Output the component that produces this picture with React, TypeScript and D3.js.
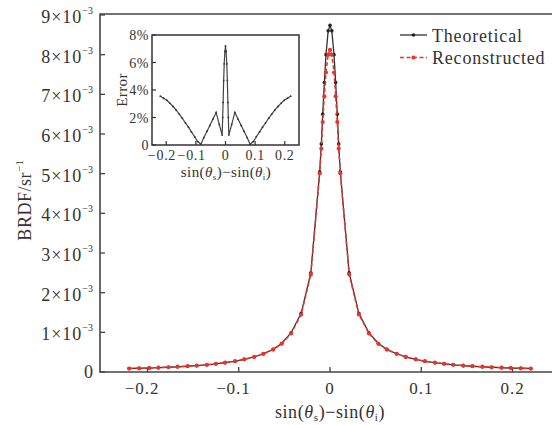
import React from "react";
import * as d3 from "d3";

// sample positions, sin(theta_s) - sin(theta_i)
const xs = [
  -0.22, -0.209, -0.198, -0.188, -0.177, -0.167, -0.156, -0.146, -0.135, -0.125,
  -0.115, -0.104, -0.094, -0.083, -0.073, -0.0623, -0.053, -0.0426, -0.0316, -0.021,
  -0.0113, -0.0095, -0.008, -0.0062, -0.0044, -0.002, 0,
  0.002, 0.0044, 0.0062, 0.008, 0.0095, 0.0113,
  0.021, 0.0316, 0.0426, 0.053, 0.0623, 0.073, 0.083, 0.094, 0.104, 0.115,
  0.125, 0.135, 0.146, 0.156, 0.167, 0.177, 0.188, 0.198, 0.209, 0.22,
];

// BRDF values in units of 1e-3 sr^-1
const theoretical = [
  0.09, 0.095, 0.1, 0.11, 0.12, 0.13, 0.145, 0.16, 0.18, 0.205,
  0.235, 0.27, 0.32, 0.38, 0.46, 0.57, 0.72, 0.99, 1.48, 2.5,
  5.05, 5.75, 6.5, 7.3, 8.0, 8.6, 8.74,
  8.6, 8.0, 7.3, 6.5, 5.75, 5.05,
  2.5, 1.48, 0.99, 0.72, 0.57, 0.46, 0.38, 0.32, 0.27, 0.235,
  0.205, 0.18, 0.16, 0.145, 0.13, 0.12, 0.11, 0.1, 0.095, 0.09,
];

const reconstructed = [
  0.087, 0.092, 0.1, 0.11, 0.12, 0.134, 0.148, 0.163, 0.183, 0.208,
  0.238, 0.272, 0.32, 0.38, 0.457, 0.565, 0.71, 0.97, 1.45, 2.46,
  5.01, 5.63, 6.3, 6.95, 7.55, 8.0, 8.12,
  8.0, 7.55, 6.95, 6.3, 5.63, 5.01,
  2.46, 1.45, 0.97, 0.71, 0.565, 0.457, 0.38, 0.32, 0.272, 0.238,
  0.208, 0.183, 0.163, 0.148, 0.134, 0.12, 0.11, 0.1, 0.092, 0.087,
];

// relative error in %
const errorPct = [
  3.55, 3.4, 3.25, 3.05, 2.8, 2.55, 2.25, 1.95, 1.6, 1.3,
  0.95, 0.6, 0.25, 0.05, 0.54, 1.0, 1.42, 1.88, 2.37, 1.5,
  0.72, 2.0, 3.1, 4.7, 5.9, 6.8, 7.2,
  6.8, 5.9, 4.7, 3.1, 2.0, 0.72,
  1.5, 2.37, 1.88, 1.42, 1.0, 0.54, 0.05, 0.25, 0.6, 0.95,
  1.3, 1.6, 1.95, 2.25, 2.55, 2.8, 3.05, 3.25, 3.4, 3.55,
];

const xTicks = [-0.2, -0.1, 0, 0.1, 0.2];
const yTicks = [0, 1, 2, 3, 4, 5, 6, 7, 8, 9];
const insetYTicks = [0, 2, 4, 6, 8];

const W = 552;
const H = 425;
const serif = "'Liberation Serif', 'Times New Roman', serif";
const axisColor = "#444";
const red = "#e8342c";

// tick label: the digits sit centred on the tick, a minus sign hangs to the left
function TickLabel({ x, y, v, size, half }: { x: number; y: number; v: number; size: number; half: number }) {
  const body = v === 0 ? "0" : Math.abs(v).toFixed(1);
  return (
    <g fontFamily={serif} fontSize={size} fill="#333">
      <text x={x} y={y} textAnchor="middle" letterSpacing={size > 15 ? 1 : 0.6}>
        {body}
      </text>
      {v < 0 && (
        <text x={x - half - 1} y={y} textAnchor="end">
          {"\u2212"}
        </text>
      )}
    </g>
  );
}

export default function App() {
  const x = d3.scaleLinear().domain([-0.252, 0.252]).range([100, 560]);
  const y = d3.scaleLinear().domain([0, 9]).range([372, 15]);

  const ix = d3.scaleLinear().domain([-0.248, 0.248]).range([152, 299]);
  const iy = d3.scaleLinear().domain([0, 8]).range([145, 35]);

  const line = d3
    .line<number>()
    .x((_, i) => x(xs[i]))
    .y((d) => y(d));
  const insetLine = d3
    .line<number>()
    .x((_, i) => ix(xs[i]))
    .y((d) => iy(d));

  return (
    <svg width={W} height={H} style={{ position: "absolute", left: 0, top: 0, background: "#fff" }}>
      {/* main frame */}
      <path d={`M${W},14H100V372H${W}`} fill="none" stroke={axisColor} strokeWidth={1.6} />

      {yTicks.map((t) => (
        <g key={"y" + t}>
          <line x1={100} x2={105} y1={y(t)} y2={y(t)} stroke={axisColor} strokeWidth={1.3} />
          {t === 0 ? (
            <text x={93} y={y(t) + 6} textAnchor="end" fontFamily={serif} fontSize={18} fill="#333">
              0
            </text>
          ) : (
            <text x={93} y={y(t) + 8} textAnchor="end" fontFamily={serif} fontSize={18} fill="#333" letterSpacing={1}>
              {t}×10
              <tspan fontSize={10} dy={-9} letterSpacing={0}>
                {"\u2212"}3
              </tspan>
            </text>
          )}
        </g>
      ))}

      {xTicks.map((t) => (
        <g key={"x" + t}>
          <line x1={x(t)} x2={x(t)} y1={372} y2={367} stroke={axisColor} strokeWidth={1.3} />
          <TickLabel x={x(t)} y={394} v={t} size={17} half={12} />
        </g>
      ))}

      <text
        transform="translate(31,200) rotate(-90)"
        textAnchor="middle"
        fontFamily={serif}
        fontSize={18}
        fill="#333"
        letterSpacing={0.5}
      >
        BRDF/sr
        <tspan fontSize={11} dy={-8}>
          {"\u2212"}1
        </tspan>
      </text>

      <text x={330} y={418} textAnchor="middle" fontFamily={serif} fontSize={18} fill="#333" letterSpacing={0.6}>
        sin(<tspan fontStyle="italic">θ</tspan>
        <tspan fontSize={11} dy={3}>s</tspan>
        <tspan dy={-3}>){"\u2212"}sin(</tspan>
        <tspan fontStyle="italic">θ</tspan>
        <tspan fontSize={11} dy={3}>i</tspan>
        <tspan dy={-3}>)</tspan>
      </text>

      {/* curves */}
      <path d={line(theoretical) ?? ""} fill="none" stroke="#333" strokeWidth={1.3} />
      {theoretical.map((v, i) => (
        <circle key={"t" + i} cx={x(xs[i])} cy={y(v)} r={1.8} fill="#222" />
      ))}
      <path d={line(reconstructed) ?? ""} fill="none" stroke={red} strokeWidth={1.5} strokeDasharray="4,2.5" />
      {reconstructed.map((v, i) => (
        <circle key={"r" + i} cx={x(xs[i])} cy={y(v)} r={2.1} fill={red} />
      ))}

      {/* legend */}
      <line x1={400} x2={427} y1={35} y2={35} stroke="#333" strokeWidth={1.3} />
      <circle cx={413.5} cy={35} r={1.8} fill="#222" />
      <text x={432} y={41.5} fontFamily={serif} fontSize={18} fill="#333" letterSpacing={0.8}>
        Theoretical
      </text>
      <line x1={400} x2={427} y1={57.5} y2={57.5} stroke={red} strokeWidth={1.5} strokeDasharray="4,2.5" />
      <circle cx={413.5} cy={57.5} r={2.1} fill={red} />
      <text x={432} y={64} fontFamily={serif} fontSize={18} fill="#333" letterSpacing={0.8}>
        Reconstructed
      </text>

      {/* inset */}
      <rect x={152} y={35} width={147} height={110} fill="#fff" stroke="#333" strokeWidth={1.5} />
      {insetYTicks.map((t) => (
        <g key={"iy" + t}>
          <line x1={152} x2={156} y1={iy(t)} y2={iy(t)} stroke="#333" strokeWidth={1.2} />
          <text x={149} y={iy(t) + 5} textAnchor="end" fontFamily={serif} fontSize={14} fill="#333" letterSpacing={0.5}>
            {t === 0 ? "0" : t + "%"}
          </text>
        </g>
      ))}
      {xTicks.map((t) => (
        <g key={"ix" + t}>
          <line x1={ix(t)} x2={ix(t)} y1={145} y2={141} stroke="#333" strokeWidth={1.2} />
          <TickLabel x={ix(t)} y={160} v={t} size={14} half={9.5} />
        </g>
      ))}
      <text
        transform="translate(127,90) rotate(-90)"
        textAnchor="middle"
        fontFamily={serif}
        fontSize={15}
        fill="#333"
        letterSpacing={0.4}
      >
        Error
      </text>
      <text x={226} y={177} textAnchor="middle" fontFamily={serif} fontSize={15} fill="#333" letterSpacing={0.4}>
        sin(<tspan fontStyle="italic">θ</tspan>
        <tspan fontSize={9} dy={3}>s</tspan>
        <tspan dy={-3}>){"\u2212"}sin(</tspan>
        <tspan fontStyle="italic">θ</tspan>
        <tspan fontSize={9} dy={3}>i</tspan>
        <tspan dy={-3}>)</tspan>
      </text>
      <path d={insetLine(errorPct) ?? ""} fill="none" stroke="#444" strokeWidth={1.2} />
      {errorPct.map((v, i) => (
        <circle key={"e" + i} cx={ix(xs[i])} cy={iy(v)} r={0.9} fill="#333" />
      ))}
    </svg>
  );
}
